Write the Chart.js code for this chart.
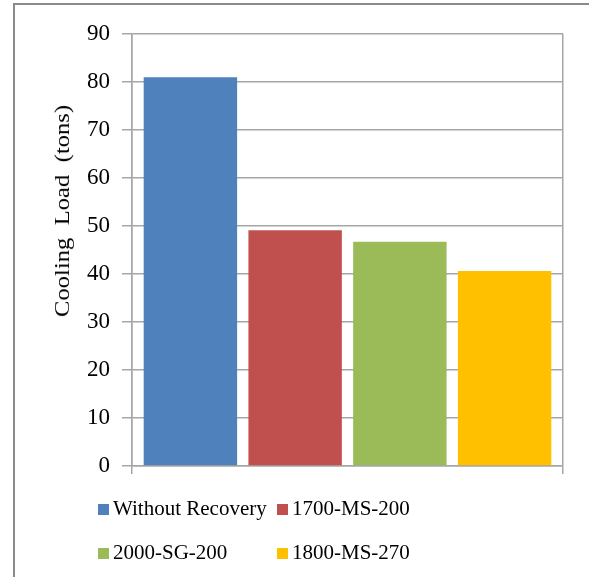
<!DOCTYPE html>
<html>
<head>
<meta charset="utf-8">
<script src="https://cdn.jsdelivr.net/npm/chart.js@4"></script>
<style>
    body { margin: 0; background: #fff; }
    #wrap { position: relative; width: 589px; height: 577px; overflow: hidden; }
    #frame { position: absolute; left: 13px; top: 3px; width: 600px; height: 600px;
             border-left: 2px solid #8a8a8a; border-top: 2px solid #8a8a8a; }
    canvas { position: absolute; left: 0; top: 0; }
    .legend-item { position: absolute; font-family: "Liberation Serif", serif; font-size: 21px;
                   color: #000; line-height: 24px; white-space: nowrap; }
    .legend-item span.box { display: inline-block; width: 11px; height: 11px; margin-right: 4px; }
    #ytitle { position: absolute; left: 62px; top: 211px; font-family: "Liberation Serif", serif;
              font-size: 22px; color: #000; white-space: pre; line-height: 22px;
              transform: translate(-50%, -50%) rotate(-90deg) scaleX(1.12); }
</style>
</head>
<body>
<div id="wrap">
    <div id="frame"></div>
    <canvas id="chart" width="589" height="577"></canvas>
    <div id="ytitle"></div>
    <div id="legend"></div>
</div>
<script>
const seriesNames = ["Without Recovery", "1700-MS-200", "2000-SG-200", "1800-MS-270"];
const seriesValues = [81, 49.1, 46.7, 40.6];
const seriesColors = ["#4f81bd", "#c0504d", "#9bbb59", "#ffc000"];
const yTicks = [0, 10, 20, 30, 40, 50, 60, 70, 80, 90];
const yTitle = "Cooling  Load  (tons)";

document.getElementById("ytitle").textContent = yTitle;

// legend grid: two columns, two rows
const legendSpots = [[98, 496], [277, 496], [98, 540], [277, 540]];
const legend = document.getElementById("legend");
seriesNames.forEach(function(name, i){
    const item = document.createElement("div");
    item.className = "legend-item";
    item.style.left = legendSpots[i][0] + "px";
    item.style.top = legendSpots[i][1] + "px";
    item.innerHTML = '<span class="box" style="background:' + seriesColors[i] + '"></span>' + name;
    legend.appendChild(item);
});

const datasets = seriesNames.map(function(name, i){
    return {
        label: name,
        data: [seriesValues[i]],
        backgroundColor: seriesColors[i],
        borderWidth: 0,
        barPercentage: 0.892,
        categoryPercentage: 0.972
    };
});

var chart = new Chart(document.getElementById("chart"), {
    type: "bar",
    data: {
        labels: [""],
        datasets: datasets
    },
    options: {
        responsive: false,
        animation: false,
        layout: {
            padding: { left: 0, top: 34, right: 26, bottom: 103 }
        },
        plugins: {
            legend: { display: false },
            tooltip: { enabled: false }
        },
        scales: {
            x: {
                offset: true,
                ticks: { display: false },
                grid: {
                    offset: true,
                    drawOnChartArea: true,
                    tickLength: 8,
                    color: "#a6a6a6",
                    lineWidth: 1.5
                },
                border: { color: "#a6a6a6", width: 1.5 }
            },
            y: {
                min: 0,
                max: 90,
                afterBuildTicks: function(scale){
                    scale.ticks = yTicks.map(function(v){ return { value: v }; });
                },
                afterFit: function(scale){
                    scale.width = 132;
                },
                ticks: {
                    color: "#000",
                    padding: 12,
                    font: { family: "Liberation Serif", size: 23 }
                },
                grid: {
                    tickLength: 10,
                    color: "#a6a6a6",
                    lineWidth: 1.5
                },
                border: { color: "#a6a6a6", width: 1.5 }
            }
        }
    }
});
</script>
</body>
</html>
